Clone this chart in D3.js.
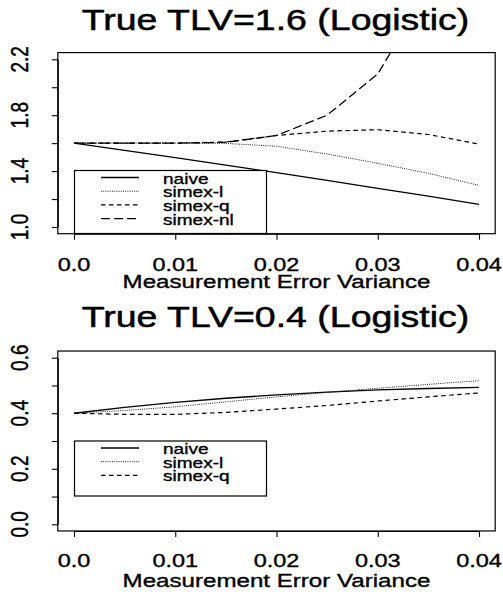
<!DOCTYPE html>
<html>
<head>
<meta charset="utf-8">
<script src="https://cdn.jsdelivr.net/npm/d3@7"></script>
<style>
  html, body { margin: 0; padding: 0; background: #fff; }
  svg { display: block; }
  text { font-family: "Liberation Sans", Arial, Helvetica, sans-serif; fill: #000; stroke: #000; stroke-width: 0.35; }
  text.title { stroke-width: 0.5; }
</style>
</head>
<body>
<svg id="chart" width="503" height="592"></svg>
<script>
// Measurement error variance grid shared by both panels
const errorVariance = [0, 0.005, 0.01, 0.015, 0.02, 0.025, 0.03, 0.035, 0.04];
const xTickValues = [0, 0.01, 0.02, 0.03, 0.04];
const xTickLabels = ["0.0", "0.01", "0.02", "0.03", "0.04"];

// Panel 1: true TLV = 1.6
const naive16   = [1.600, 1.548, 1.496, 1.443, 1.389, 1.333, 1.277, 1.221, 1.162];
const simexL16  = [1.600, 1.600, 1.600, 1.598, 1.578, 1.522, 1.456, 1.384, 1.298];
const simexQ16  = [1.600, 1.600, 1.600, 1.608, 1.655, 1.686, 1.696, 1.662, 1.593];
const simexNL16 = [1.600, 1.600, 1.600, 1.606, 1.655, 1.800, 2.095, 2.700, 3.500];
const yTicks16  = [1.0, 1.2, 1.4, 1.6, 1.8, 2.0, 2.2];
const yLabels16 = ["1.0", "", "1.4", "", "1.8", "", "2.2"];

// Panel 2: true TLV = 0.4
const naive04  = [0.400, 0.421, 0.439, 0.454, 0.466, 0.476, 0.484, 0.489, 0.493];
const simexL04 = [0.400, 0.410, 0.423, 0.441, 0.459, 0.475, 0.490, 0.504, 0.517];
const simexQ04 = [0.400, 0.396, 0.396, 0.403, 0.415, 0.428, 0.444, 0.459, 0.473];
const yTicks04  = [0.0, 0.1, 0.2, 0.3, 0.4, 0.5, 0.6];
const yLabels04 = ["0.0", "", "0.2", "", "0.4", "", "0.6"];

const legendNames = ["naive", "simex-l", "simex-q", "simex-nl"];

// line styles per method
const styles = {
  "naive":    { dash: null,      width: 1.3, color: "#000" },
  "simex-l":  { dash: "1,1.2",   width: 1.0, color: "#222" },
  "simex-q":  { dash: "4.5,3.5", width: 1.2, color: "#000" },
  "simex-nl": { dash: "9,4",     width: 1.3, color: "#000" }
};

const SX = 1.27; // horizontal stretch of all lettering
const svg = d3.select("#chart");

function stretchedText(g, x, y, str, size, opts = {}) {
  const rot = opts.rotate ? " rotate(-90)" : "";
  return g.append("text")
    .attr("class", opts.cls || null)
    .attr("transform", `translate(${x},${y}) scale(${SX},1)${rot}`)
    .attr("text-anchor", opts.anchor || "middle")
    .attr("font-size", size)
    .text(str);
}

function panel(cfg) {
  const g = svg.append("g");
  const x = d3.scaleLinear().domain([0, 0.04]).range([74, 479]);
  const y = d3.scaleLinear().domain(cfg.yDomain).range(cfg.yRange);
  const xPad = 0.04 * 0.04, yPad = 0.04 * (cfg.yDomain[1] - cfg.yDomain[0]);
  const left = x(-xPad), right = x(0.04 + xPad);
  const top = y(cfg.yDomain[1] + yPad), bottom = y(cfg.yDomain[0] - yPad);

  // title
  stretchedText(g, (left + right) / 2 - 1, cfg.titleY, cfg.title, 29.5, { cls: "title" });

  // clip region for the curves
  const clipId = "clip" + cfg.id;
  g.append("clipPath").attr("id", clipId)
    .append("rect").attr("x", left).attr("y", top)
    .attr("width", right - left).attr("height", bottom - top);

  // curves
  const line = d3.line()
    .x((d, i) => x(errorVariance[i]))
    .y(d => y(d));
  const curves = g.append("g").attr("clip-path", `url(#${clipId})`);
  cfg.series.forEach(s => {
    const st = styles[s.name];
    curves.append("path")
      .datum(s.values)
      .attr("d", line)
      .attr("fill", "none")
      .attr("stroke", st.color)
      .attr("stroke-width", st.width)
      .attr("stroke-dasharray", st.dash);
  });

  // legend
  const lg = g.append("g");
  lg.append("rect")
    .attr("x", 74.5).attr("y", cfg.legendTop)
    .attr("width", 192).attr("height", cfg.legendBottom - cfg.legendTop)
    .attr("fill", "#fff").attr("stroke", "#000").attr("stroke-width", 1.2);
  cfg.series.forEach((s, i) => {
    const st = styles[s.name];
    const base = cfg.legendFirst + i * cfg.legendStep;
    lg.append("line")
      .attr("x1", 101).attr("x2", 139)
      .attr("y1", base - 6).attr("y2", base - 6)
      .attr("stroke", st.color).attr("stroke-width", st.width)
      .attr("stroke-dasharray", st.dash);
    stretchedText(lg, 163, base, s.name, 15, { anchor: "start" });
  });

  // plot frame
  g.append("rect")
    .attr("x", left).attr("y", top)
    .attr("width", right - left).attr("height", bottom - top)
    .attr("fill", "none").attr("stroke", "#000").attr("stroke-width", 1.2);

  // axes
  const ax = g.append("g").attr("transform", `translate(0,${bottom})`)
    .call(d3.axisBottom(x).tickValues(xTickValues).tickSize(6).tickSizeOuter(0).tickFormat(""));
  const ay = g.append("g").attr("transform", `translate(${left},0)`)
    .call(d3.axisLeft(y).tickValues(cfg.yTicks).tickSize(6).tickSizeOuter(0).tickFormat(""));
  [ax, ay].forEach(a => {
    a.selectAll("path, line").attr("stroke", "#000").attr("stroke-width", 1.1);
  });

  xTickValues.forEach((v, i) => {
    stretchedText(g, x(v), cfg.xLabelY, xTickLabels[i], 18.5);
  });
  cfg.yTicks.forEach((v, i) => {
    if (cfg.yLabels[i]) stretchedText(g, 28, y(v), cfg.yLabels[i], 19, { rotate: true });
  });
  stretchedText(g, (left + right) / 2, cfg.xTitleY, "Measurement Error Variance", 19);
}

panel({
  id: 1,
  title: "True TLV=1.6 (Logistic)",
  titleY: 30,
  yDomain: [1.0, 2.2], yRange: [227, 59.3],
  yTicks: yTicks16, yLabels: yLabels16,
  xLabelY: 271, xTitleY: 287.5,
  legendTop: 170.5, legendBottom: 233.5, legendFirst: 183.5, legendStep: 13.7,
  series: [
    { name: legendNames[0], values: naive16 },
    { name: legendNames[1], values: simexL16 },
    { name: legendNames[2], values: simexQ16 },
    { name: legendNames[3], values: simexNL16 }
  ]
});

panel({
  id: 2,
  title: "True TLV=0.4 (Logistic)",
  titleY: 327,
  yDomain: [0.0, 0.6], yRange: [524.3, 357.7],
  yTicks: yTicks04, yLabels: yLabels04,
  xLabelY: 566.5, xTitleY: 586.5,
  legendTop: 441, legendBottom: 496, legendFirst: 454, legendStep: 13.7,
  series: [
    { name: legendNames[0], values: naive04 },
    { name: legendNames[1], values: simexL04 },
    { name: legendNames[2], values: simexQ04 }
  ]
});
</script>
</body>
</html>
